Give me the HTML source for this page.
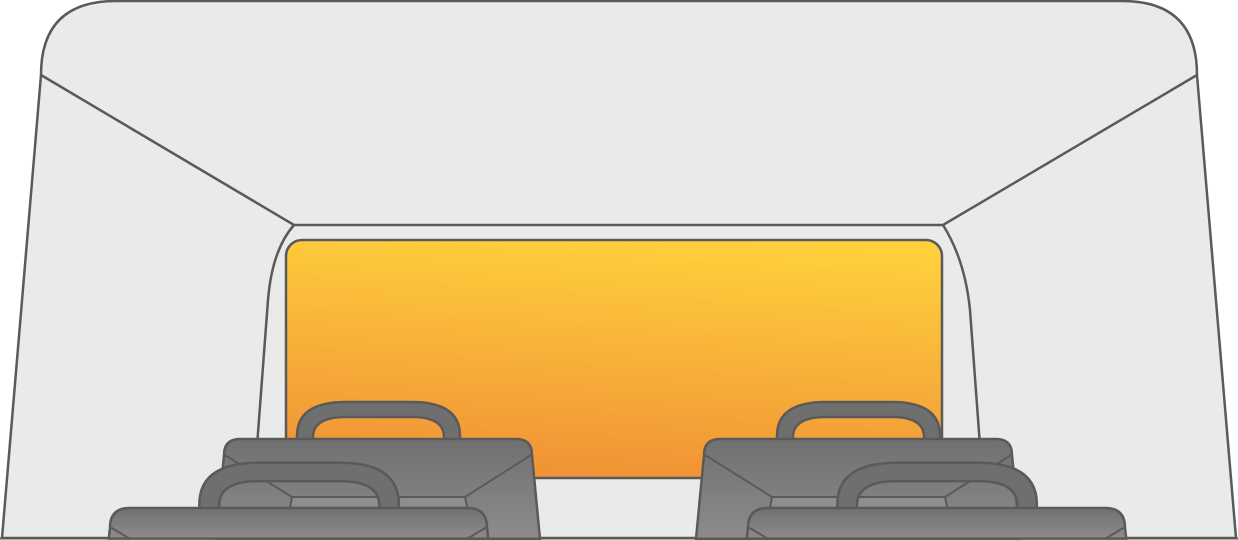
<!DOCTYPE html>
<html><head><meta charset="utf-8"><style>html,body{margin:0;padding:0;background:#fff;width:1238px;height:540px;overflow:hidden}svg{display:block}</style></head>
<body>
<svg width="1238" height="540" viewBox="0 0 1238 540" xmlns="http://www.w3.org/2000/svg">
<defs>
<linearGradient id="win" x1="0.62" y1="0" x2="0.45" y2="1">
<stop offset="0" stop-color="#FFD03C"/><stop offset="1" stop-color="#F09236"/></linearGradient>
<linearGradient id="seat" x1="0" y1="0" x2="0" y2="1">
<stop offset="0" stop-color="#6f706f"/><stop offset="1" stop-color="#8c8c8c"/></linearGradient>
<path id="handle" d="M73,2 V-3 Q73,-37 122,-37 H188 Q236,-37 236,-3 V2 Z M89,2 V-2 Q89,-22 122,-22 H188 Q220,-22 220,-2 V2 Z" fill-rule="evenodd" fill="#6e6f6e" stroke="#5a5a5a" stroke-width="2.5" vector-effect="non-scaling-stroke"/>
<g id="seatg">
<use href="#handle"/>
<path d="M0,16 Q0,0 16,0 H292 Q308,0 308,16 L316,100 H-8 Z" fill="url(#seat)" stroke="#5a5a5a" stroke-width="2.5" vector-effect="non-scaling-stroke"/>
<path d="M68,58 H241 L250,100 H60 Z" fill="#8e8e8e" stroke="#5a5a5a" stroke-width="2" vector-effect="non-scaling-stroke"/>
<path d="M1,16 L68,58 M241,58 L307,16" fill="none" stroke="#5a5a5a" stroke-width="2" vector-effect="non-scaling-stroke"/>
</g>
<g id="seatf">
<use href="#handle"/>
<path d="M0,16 Q0,0 16,0 H292 Q308,0 308,16 L309,25 H-1 Z" fill="url(#seat)" stroke="#5a5a5a" stroke-width="2.5" vector-effect="non-scaling-stroke"/>
<path d="M1,16 L16,25 M292,25 L307,16" fill="none" stroke="#5a5a5a" stroke-width="2" vector-effect="non-scaling-stroke"/>
</g>
</defs>
<path d="M41,75 Q41,1 116,1 H1122 Q1197,1 1197,75 L1236,538 H2 Z" fill="#e9ebea" stroke="#5a5a5a" stroke-width="2.5"/>
<path d="M41,75 L294,225 H943 L1197,75" fill="none" stroke="#5a5a5a" stroke-width="2.5"/>
<path d="M294,225 Q272,250 268,300 L250,539" fill="none" stroke="#5a5a5a" stroke-width="2.5"/>
<path d="M943,225 Q965,260 970,310 L984,500" fill="none" stroke="#5a5a5a" stroke-width="2.5"/>
<rect x="286" y="240" width="656" height="238" rx="16" fill="url(#win)" stroke="#5a5a5a" stroke-width="2.5"/>
<use href="#seatg" transform="translate(224,439)"/>
<use href="#seatg" transform="translate(704,439)"/>
<use href="#seatf" transform="translate(110,508) scale(1.224)"/>
<use href="#seatf" transform="translate(748,508) scale(1.224)"/>
<line x1="0" y1="538.5" x2="1238" y2="538.5" stroke="#5a5a5a" stroke-width="2"/>
</svg>
</body></html>
